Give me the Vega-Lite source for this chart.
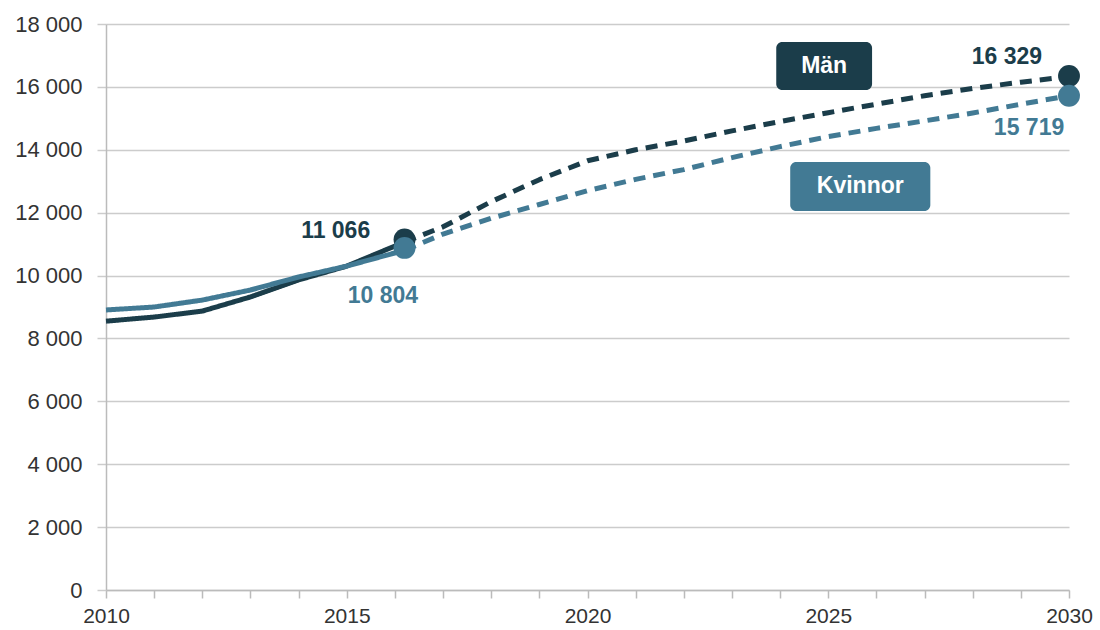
{
  "$schema": "https://vega.github.io/schema/vega-lite/v6.json",
  "width": 963,
  "height": 566,
  "autosize": {"type": "none"},
  "padding": {"left": 106, "top": 24, "right": 31, "bottom": 40},
  "background": "white",
  "config": {
    "font": "Liberation Sans",
    "view": {"stroke": null}
  },
  "datasets": {
    "lines": [
      {"serie": "Män", "typ": "utfall", "year": 2010, "value": 8550},
      {"serie": "Män", "typ": "utfall", "year": 2011, "value": 8680},
      {"serie": "Män", "typ": "utfall", "year": 2012, "value": 8870},
      {"serie": "Män", "typ": "utfall", "year": 2013, "value": 9320},
      {"serie": "Män", "typ": "utfall", "year": 2014, "value": 9860},
      {"serie": "Män", "typ": "utfall", "year": 2015, "value": 10300},
      {"serie": "Män", "typ": "utfall", "year": 2016.2, "value": 11066},
      {"serie": "Män", "typ": "prognos", "year": 2016.2, "value": 11066},
      {"serie": "Män", "typ": "prognos", "year": 2017, "value": 11550},
      {"serie": "Män", "typ": "prognos", "year": 2018, "value": 12350},
      {"serie": "Män", "typ": "prognos", "year": 2019, "value": 13050},
      {"serie": "Män", "typ": "prognos", "year": 2020, "value": 13650},
      {"serie": "Män", "typ": "prognos", "year": 2021, "value": 14000},
      {"serie": "Män", "typ": "prognos", "year": 2022, "value": 14280},
      {"serie": "Män", "typ": "prognos", "year": 2023, "value": 14600},
      {"serie": "Män", "typ": "prognos", "year": 2024, "value": 14900},
      {"serie": "Män", "typ": "prognos", "year": 2025, "value": 15180},
      {"serie": "Män", "typ": "prognos", "year": 2026, "value": 15450},
      {"serie": "Män", "typ": "prognos", "year": 2027, "value": 15720},
      {"serie": "Män", "typ": "prognos", "year": 2028, "value": 15950},
      {"serie": "Män", "typ": "prognos", "year": 2029, "value": 16150},
      {"serie": "Män", "typ": "prognos", "year": 2030, "value": 16329},
      {"serie": "Kvinnor", "typ": "utfall", "year": 2010, "value": 8905},
      {"serie": "Kvinnor", "typ": "utfall", "year": 2011, "value": 9000},
      {"serie": "Kvinnor", "typ": "utfall", "year": 2012, "value": 9220},
      {"serie": "Kvinnor", "typ": "utfall", "year": 2013, "value": 9540},
      {"serie": "Kvinnor", "typ": "utfall", "year": 2014, "value": 9955},
      {"serie": "Kvinnor", "typ": "utfall", "year": 2015, "value": 10300},
      {"serie": "Kvinnor", "typ": "utfall", "year": 2016.2, "value": 10804},
      {"serie": "Kvinnor", "typ": "prognos", "year": 2016.2, "value": 10804},
      {"serie": "Kvinnor", "typ": "prognos", "year": 2017, "value": 11320},
      {"serie": "Kvinnor", "typ": "prognos", "year": 2018, "value": 11820},
      {"serie": "Kvinnor", "typ": "prognos", "year": 2019, "value": 12260},
      {"serie": "Kvinnor", "typ": "prognos", "year": 2020, "value": 12700},
      {"serie": "Kvinnor", "typ": "prognos", "year": 2021, "value": 13060},
      {"serie": "Kvinnor", "typ": "prognos", "year": 2022, "value": 13370},
      {"serie": "Kvinnor", "typ": "prognos", "year": 2023, "value": 13750},
      {"serie": "Kvinnor", "typ": "prognos", "year": 2024, "value": 14100},
      {"serie": "Kvinnor", "typ": "prognos", "year": 2025, "value": 14420},
      {"serie": "Kvinnor", "typ": "prognos", "year": 2026, "value": 14680},
      {"serie": "Kvinnor", "typ": "prognos", "year": 2027, "value": 14920},
      {"serie": "Kvinnor", "typ": "prognos", "year": 2028, "value": 15170},
      {"serie": "Kvinnor", "typ": "prognos", "year": 2029, "value": 15450},
      {"serie": "Kvinnor", "typ": "prognos", "year": 2030, "value": 15719}
    ],
    "points": [
      {"serie": "Män", "year": 2016.2, "value": 11150},
      {"serie": "Män", "year": 2030, "value": 16350},
      {"serie": "Kvinnor", "year": 2016.2, "value": 10880},
      {"serie": "Kvinnor", "year": 2030, "value": 15719}
    ],
    "labels": [
      {"serie": "Män", "label": "11 066", "x": 2014.77, "y": 11418},
      {"serie": "Kvinnor", "label": "10 804", "x": 2015.75, "y": 9351},
      {"serie": "Män", "label": "16 329", "x": 2028.71, "y": 16953},
      {"serie": "Kvinnor", "label": "15 719", "x": 2029.17, "y": 14695}
    ],
    "boxes": [
      {"serie": "Män", "x1": 2023.92, "x2": 2025.91, "y1": 17430, "y2": 15903, "xc": 2024.915, "yc": 16666},
      {"serie": "Kvinnor", "x1": 2024.21, "x2": 2027.12, "y1": 13613, "y2": 12055, "xc": 2025.665, "yc": 12834}
    ]
  },
  "layer": [
    {
      "data": {"name": "lines"},
      "mark": {"type": "line", "strokeWidth": 5, "strokeCap": "butt", "strokeJoin": "round"},
      "encoding": {
        "x": {
          "field": "year", "type": "quantitative",
          "scale": {"domain": [2010, 2030], "nice": false, "zero": false},
          "axis": {
            "title": null,
            "values": [2010,2011,2012,2013,2014,2015,2016,2017,2018,2019,2020,2021,2022,2023,2024,2025,2026,2027,2028,2029,2030],
            "labelExpr": "datum.value % 5 === 0 ? format(datum.value, 'd') : ''",
            "grid": false,
            "domainColor": "#bbbbbb",
            "domainWidth": 1.5,
            "tickColor": "#bbbbbb",
            "tickWidth": 1.5,
            "tickSize": 8,
            "labelFontSize": 21,
            "labelColor": "#333333",
            "labelPadding": 7,
            "labelFont": "Liberation Sans",
            "labelFlush": false
          }
        },
        "y": {
          "field": "value", "type": "quantitative",
          "scale": {"domain": [0, 18000], "nice": false},
          "axis": {
            "title": null,
            "values": [0,2000,4000,6000,8000,10000,12000,14000,16000,18000],
            "labelExpr": "replace(format(datum.value, ','), ',', ' ')",
            "grid": true,
            "gridColor": "#cccccc",
            "gridWidth": 1.5,
            "domainColor": "#bbbbbb",
            "domainWidth": 1.5,
            "tickColor": "#cccccc",
            "tickWidth": 1.5,
            "tickSize": 9,
            "labelFontSize": 22,
            "labelColor": "#333333",
            "labelPadding": 15,
            "labelFont": "Liberation Sans"
          }
        },
        "color": {
          "field": "serie", "type": "nominal",
          "scale": {"domain": ["Män", "Kvinnor"], "range": ["#1b3d4a", "#427a94"]},
          "legend": null
        },
        "strokeDash": {
          "field": "typ", "type": "nominal",
          "scale": {"domain": ["utfall", "prognos"], "range": [[1, 0], [12, 8]]},
          "legend": null
        },
        "order": {"field": "year", "type": "quantitative"},
        "detail": {"field": "serie"}
      }
    },
    {
      "data": {"name": "points"},
      "mark": {"type": "point", "filled": true, "opacity": 1, "size": 480},
      "encoding": {
        "x": {"field": "year", "type": "quantitative"},
        "y": {"field": "value", "type": "quantitative"},
        "color": {"field": "serie", "type": "nominal", "legend": null}
      }
    },
    {
      "data": {"name": "labels"},
      "mark": {"type": "text", "fontSize": 23, "fontWeight": "bold", "align": "center", "baseline": "middle", "font": "Liberation Sans"},
      "encoding": {
        "x": {"field": "x", "type": "quantitative"},
        "y": {"field": "y", "type": "quantitative"},
        "text": {"field": "label"},
        "color": {"field": "serie", "type": "nominal", "legend": null}
      }
    },
    {
      "data": {"name": "boxes"},
      "mark": {"type": "rect", "cornerRadius": 6},
      "encoding": {
        "x": {"field": "x1", "type": "quantitative"},
        "x2": {"field": "x2"},
        "y": {"field": "y1", "type": "quantitative"},
        "y2": {"field": "y2"},
        "color": {"field": "serie", "type": "nominal", "legend": null}
      }
    },
    {
      "data": {"name": "boxes"},
      "mark": {"type": "text", "fontSize": 23, "fontWeight": "bold", "color": "white", "align": "center", "baseline": "middle", "font": "Liberation Sans"},
      "encoding": {
        "x": {"field": "xc", "type": "quantitative"},
        "y": {"field": "yc", "type": "quantitative"},
        "text": {"field": "serie"}
      }
    }
  ]
}
